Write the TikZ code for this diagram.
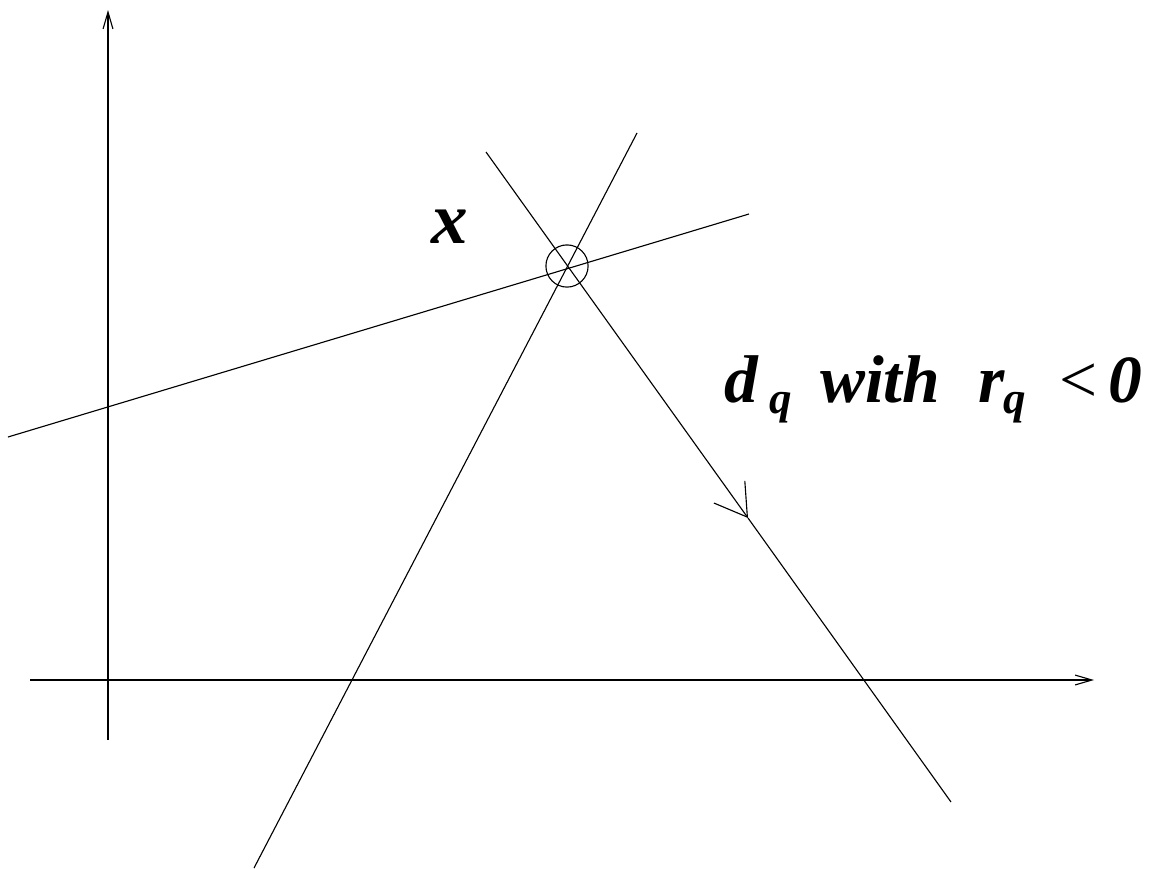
\documentclass[tikz,border=0pt]{standalone}
\usepackage{fontspec}
\setmainfont{Liberation Serif}
\usetikzlibrary{arrows.meta}

\begin{document}
\begin{tikzpicture}[x=0.025cm, y=-0.025cm, line width=0.8pt,
    axis/.style={-{Straight Barb[length=12pt, width=7pt]}},
    dirarrow/.style={-{Straight Barb[length=22pt, width=27pt]}},
    lbl/.style={font=\fontsize{48}{56}\selectfont\bfseries\itshape, inner sep=0pt}]
  \useasboundingbox (0,0) rectangle (1149,868);

  % Axes
  \coordinate (ybot) at (108,740);
  \coordinate (ytop) at (108,10);
  \coordinate (xleft) at (30,680);
  \coordinate (xright) at (1094,680);
  \draw[axis] (ybot) -- (ytop);
  \draw[axis] (xleft) -- (xright);

  % The point x where the three lines meet
  \node[draw, circle, minimum size=30pt, inner sep=0pt] (xpt) at (567,266) {};

  % Three lines through x
  \coordinate (la) at (8,437);
  \coordinate (lb) at (749,214);
  \coordinate (ma) at (254,868);
  \coordinate (mb) at (637,133);
  \coordinate (da) at (486,152);
  \coordinate (dmid) at (748,518);
  \coordinate (db) at (951,802);
  \draw (la) -- (lb);
  \draw (ma) -- (mb);
  \draw[dirarrow] (da) -- (dmid);
  \draw (dmid) -- (db);

  % Labels
  \node[font=\fontsize{52}{60}\selectfont\bfseries\itshape, inner sep=0pt, anchor=base] (xlabel) at (450,243) {x};
  \node[lbl, anchor=base west] (dlabel) at (724,402)
    {d\kern8pt\raisebox{-8pt}{\fontsize{32}{36}\selectfont q}\hspace{20pt}with\hspace{27pt}r\kern-1pt\raisebox{-8pt}{\fontsize{32}{36}\selectfont q}\hspace{24pt}{\mdseries\upshape <}\hspace{8pt}0};
\end{tikzpicture}
\end{document}
